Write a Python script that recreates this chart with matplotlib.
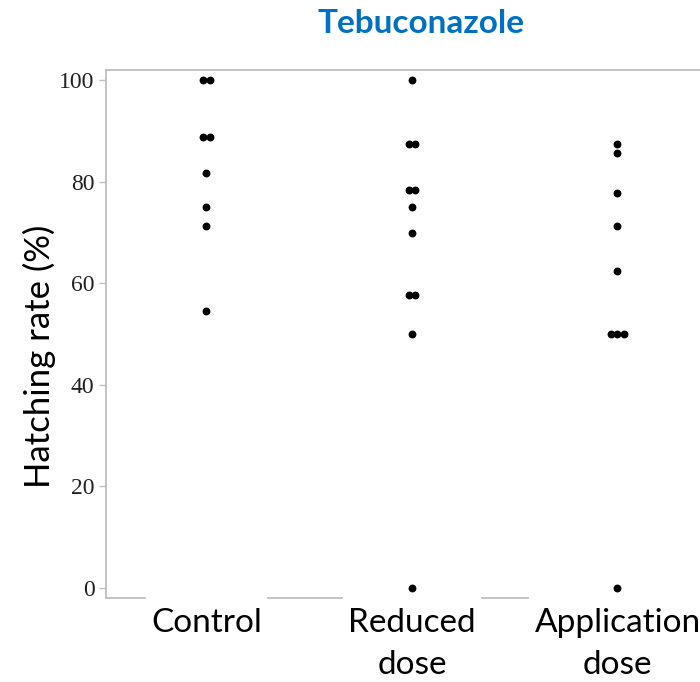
import matplotlib.pyplot as plt
import numpy as np
from collections import Counter

categories = ['Control', 'Reduced\ndose', 'Application\ndose']
control = [100, 100, 88.9, 88.9, 81.8, 75, 71.4, 54.6]
reduced = [100, 87.5, 87.5, 78.4, 78.4, 75, 70, 57.7, 57.7, 50, 0]
application = [87.5, 85.7, 77.8, 71.4, 62.5, 50, 50, 50, 0]
groups = [control, reduced, application]
yticks = [0, 20, 40, 60, 80, 100]

grey = '#bfbfbf'
sans = ['Lato', 'DejaVu Sans']

fig = plt.figure(figsize=(7, 6.82), dpi=100)
ax = fig.add_axes([0.151, 0.123, 0.875, 0.774])

# dot plot: tied values sit side by side
step = 0.032
for i, vals in enumerate(groups):
    xs, ys = [], []
    for v, n in Counter(vals).items():
        offs = (np.arange(n) - (n - 1) / 2) * step
        xs.extend(i + offs)
        ys.extend([v] * n)
    ax.scatter(xs, ys, s=32, color='black', linewidths=0, zorder=3)

ax.set_xlim(-0.49, 2.49)
ax.set_ylim(-2, 102)
ax.set_xticks(range(len(categories)))
ax.set_xticklabels(categories, fontsize=24, family=sans, linespacing=1.5)
ax.tick_params(axis='x', length=0, pad=7)
ax.set_yticks(yticks)
ax.set_yticklabels([str(t) for t in yticks], fontsize=17,
                   family='Liberation Serif', color='#222222')
ax.tick_params(axis='y', length=5, width=1, color=grey, pad=3)

for side in ['left', 'top', 'right']:
    ax.spines[side].set_color(grey)
    ax.spines[side].set_linewidth(1.3)
ax.spines['bottom'].set_visible(False)

fig.text(0.056, 0.477, 'Hatching rate (%)', rotation=90, ha='center',
         va='center', fontsize=25, family=sans)
fig.text(0.601, 0.966, 'Tebuconazole', ha='center', va='center',
         fontsize=24, fontweight='bold', color='#0070c0', family=sans)

# bottom line broken under the category labels
fig.canvas.draw()
r = fig.canvas.get_renderer()
to_ax = ax.transAxes.inverted()
pad = 6
gaps = []
for lbl in ax.get_xticklabels():
    bb = lbl.get_window_extent(r)
    a = to_ax.transform([(bb.x0 - pad, 0), (bb.x1 + pad, 0)])
    gaps.append((a[0][0], a[1][0]))
gaps.sort()
start = 0.0
for g0, g1 in gaps:
    if g0 > start:
        ax.plot([start, g0], [0, 0], color=grey, lw=1.3,
                transform=ax.transAxes, clip_on=False)
    start = max(start, g1)
if start < 1:
    ax.plot([start, 1], [0, 0], color=grey, lw=1.3,
            transform=ax.transAxes, clip_on=False)

fig.savefig('out.png', dpi=100)
